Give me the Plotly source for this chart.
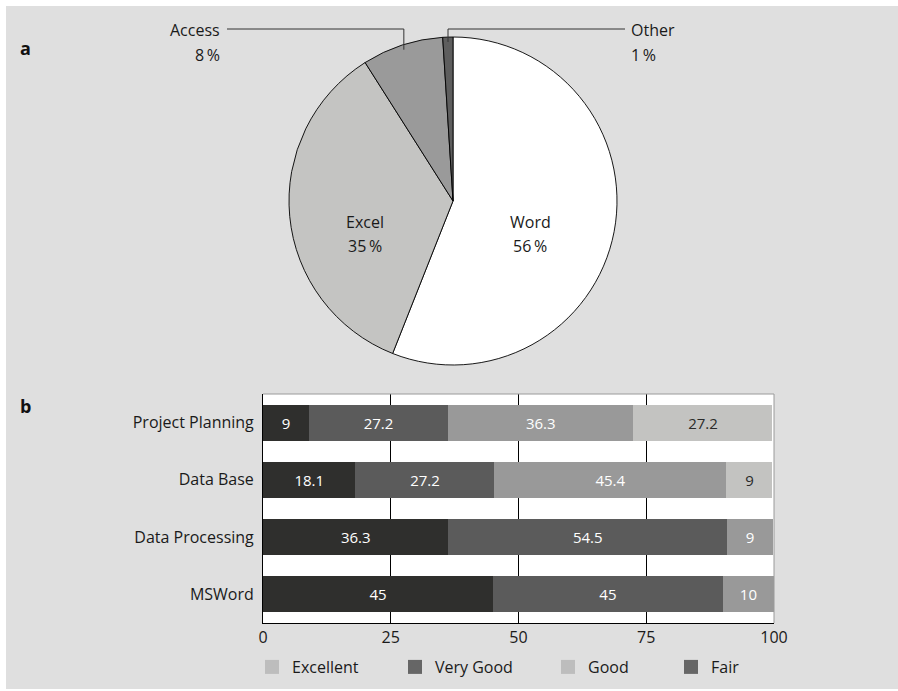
import math
import plotly.graph_objects as go

# ---------------- data ----------------
pie_labels = ["Word", "Excel", "Access", "Other"]
pie_values = [56, 35, 8, 1]
pie_colors = ["#ffffff", "#c4c4c2", "#9a9a9a", "#5e5e5e"]

categories = ["Project Planning", "Data Base", "Data Processing", "MSWord"]
seg1 = [9, 18.1, 36.3, 45]
seg2 = [27.2, 27.2, 54.5, 45]
seg3 = [36.3, 45.4, 9, 10]
seg4 = [27.2, 9, None, None]
seg_colors = ["#2f2f2d", "#5b5b5b", "#999999", "#c3c3c1"]
seg_text_colors = ["#ffffff", "#ffffff", "#ffffff", "#2a2a2a"]

legend_names = ["Excellent", "Very Good", "Good", "Fair"]
legend_colors = ["#bdbdbd", "#666666", "#bdbdbd", "#666666"]
x_ticks = [0, 25, 50, 75, 100]

# ---------------- geometry helpers ----------------
W, H = 898, 691
FONT = "Open Sans"
FS = 16
TXT = "#1a1a1a"
def px(x):
    return x / W
def py(y):
    return 1 - y / H

# pie placement (pixels)
cx, cy, R = 453, 201, 164

fig = go.Figure()

fig.add_trace(go.Pie(
    labels=pie_labels, values=pie_values, sort=False, direction="clockwise",
    rotation=0,
    marker=dict(colors=pie_colors, line=dict(color="#000000", width=0.9)),
    textinfo="none",
    domain=dict(x=[px(cx - R), px(cx + R)], y=[py(cy + R), py(cy - R)]),
    showlegend=False, hoverinfo="label+percent",
))

# bars
for vals, col, tcol in zip([seg1, seg2, seg3, seg4], seg_colors, seg_text_colors):
    fig.add_trace(go.Bar(
        y=categories, x=vals, orientation="h",
        marker=dict(color=col, line=dict(width=0)),
        texttemplate="%{x}", textposition="inside", insidetextanchor="middle",
        textangle=0,
        textfont=dict(family=FONT, size=FS - 1, color=tcol),
        showlegend=False, xaxis="x", yaxis="y",
    ))

# legend-only entries
legend_ids = ["legend", "legend2", "legend3", "legend4"]
for name, col, lid in zip(legend_names, legend_colors, legend_ids):
    fig.add_trace(go.Scatter(
        x=[None], y=[None], mode="markers", name=name,
        marker=dict(symbol="square", size=14, color=col, line=dict(width=0)),
        legend=lid, showlegend=True,
    ))

# slice mid angles
total = sum(pie_values)
cum = 0
mids = []
for v in pie_values:
    mids.append((cum + v / 2) / total * 2 * math.pi)
    cum += v

shapes = []
annotations = []

# inside labels for the large slices
for i, lx in [(0, 530), (1, 365)]:
    annotations.append(dict(text=pie_labels[i], x=px(lx), y=py(222), xref="paper", yref="paper",
                            xanchor="center", yanchor="middle", showarrow=False,
                            font=dict(family=FONT, size=FS, color=TXT)))
    annotations.append(dict(text=f"{pie_values[i]}\u2009%", x=px(lx), y=py(246), xref="paper", yref="paper",
                            xanchor="center", yanchor="middle", showarrow=False,
                            font=dict(family=FONT, size=FS, color=TXT)))

# leader lines and outside labels for the small slices
line_y = 29
for i, side in [(2, "left"), (3, "right")]:
    th = mids[i]
    ax = cx + 0.97 * R * math.sin(th)
    ay = cy - 0.97 * R * math.cos(th)
    if side == "left":
        xend = 227
        tx, anchor = 222, "right"
    else:
        xend = 625
        tx, anchor = 629, "left"
    shapes.append(dict(type="path", xref="paper", yref="paper",
                       path=f"M {px(xend)},{py(line_y)} L {px(ax)},{py(line_y)} L {px(ax)},{py(ay)}",
                       line=dict(color="#333333", width=1)))
    annotations.append(dict(text=pie_labels[i], x=px(tx), y=py(30), xref="paper", yref="paper",
                            xanchor=anchor, yanchor="middle", showarrow=False,
                            font=dict(family=FONT, size=FS, color=TXT)))
    annotations.append(dict(text=f"{pie_values[i]}\u2009%", x=px(tx), y=py(55), xref="paper", yref="paper",
                            xanchor=anchor, yanchor="middle", showarrow=False,
                            font=dict(family=FONT, size=FS, color=TXT)))

# panel letters
for letter, yy in [("a", 48), ("b", 406)]:
    annotations.append(dict(text=f"<b>{letter}</b>", x=px(18), y=py(yy), xref="paper", yref="paper",
                            xanchor="left", yanchor="middle", showarrow=False,
                            font=dict(family=FONT, size=18, color="#111111")))

# white outer margins (panel is gray)
shapes += [
    dict(type="rect", xref="paper", yref="paper", x0=0, x1=1, y0=py(6), y1=1,
         fillcolor="#ffffff", line=dict(width=0), layer="below"),
    dict(type="rect", xref="paper", yref="paper", x0=0, x1=px(6), y0=0, y1=1,
         fillcolor="#ffffff", line=dict(width=0), layer="below"),
    dict(type="rect", xref="paper", yref="paper", x0=0, x1=1, y0=0, y1=py(689),
         fillcolor="#ffffff", line=dict(width=0), layer="below"),
]
# top and right frame of bar plot (gray)
shapes += [
    dict(type="line", xref="x domain", yref="y domain", x0=0, x1=1, y0=1, y1=1,
         line=dict(color="#9a9a9a", width=1)),
    dict(type="line", xref="x domain", yref="y domain", x0=1, x1=1, y0=0, y1=1,
         line=dict(color="#9a9a9a", width=1)),
]

legend_x = [272, 415, 568, 691]  # swatch centres
legends = {}
for lid, lx in zip(legend_ids, legend_x):
    legends[lid] = dict(x=px(lx - 20), y=py(667), xanchor="left", yanchor="middle",
                        orientation="h", bgcolor="rgba(0,0,0,0)",
                        font=dict(family=FONT, size=FS, color=TXT))

fig.update_layout(
    width=W, height=H,
    margin=dict(l=0, r=0, t=0, b=0),
    paper_bgcolor="#dfdfdf", plot_bgcolor="#ffffff",
    barmode="stack", bargap=0.37,
    font=dict(family=FONT, size=FS, color=TXT),
    xaxis=dict(domain=[px(263), px(774)], range=[0, 100], tickvals=x_ticks,
               showgrid=True, gridcolor="#000000", gridwidth=1,
               showline=True, linecolor="#000000", linewidth=1,
               zeroline=False, ticks="", automargin=False,
               tickfont=dict(family=FONT, size=FS, color=TXT), fixedrange=True),
    yaxis=dict(domain=[py(623), py(394)], autorange="reversed", type="category",
               showgrid=False, showline=True, linecolor="#000000", linewidth=1,
               zeroline=False, ticks="", automargin=False, ticklabelstandoff=5,
               tickfont=dict(family=FONT, size=FS, color=TXT), fixedrange=True),
    shapes=shapes, annotations=annotations,
    **legends,
)

fig.write_html("out.html", config={"displayModeBar": False},
               post_script="document.body.style.margin='0';")
